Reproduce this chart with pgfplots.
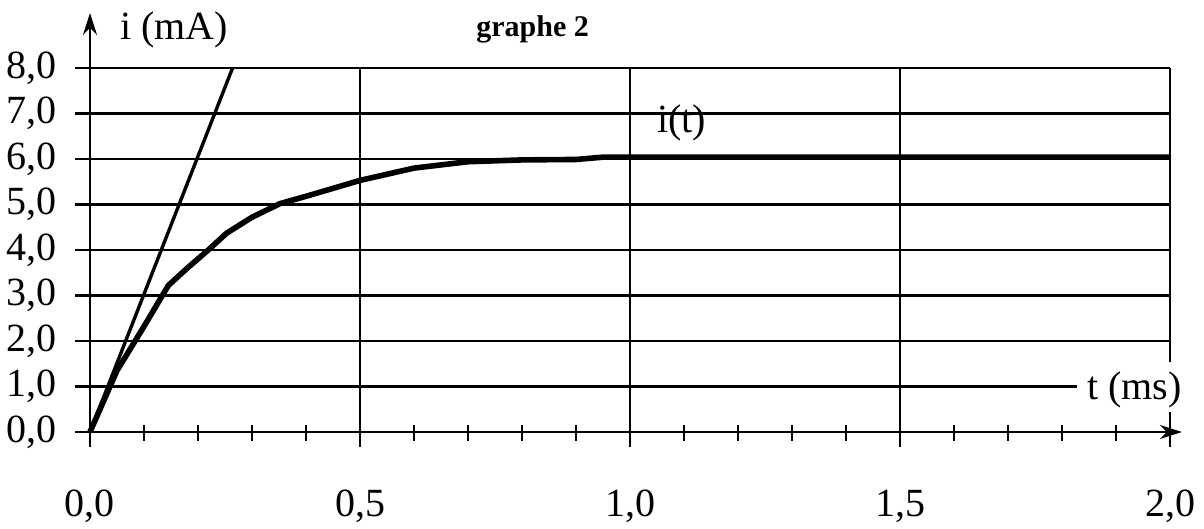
\documentclass[border=0pt]{standalone}
\usepackage{fontspec}
\setmainfont{Liberation Serif}
\usepackage{pgfplots}
\pgfplotsset{compat=1.18}
\usetikzlibrary{arrows.meta}
\begin{document}
\begin{tikzpicture}
\begin{axis}[
  at={(0,0)}, anchor=south west,
  x=270pt, y=22.75pt,
  xmin=0, xmax=2, ymin=0, ymax=8,
  axis line style={draw=none},
  clip=false,
  major tick length=0pt, minor tick length=0pt,
  xtick={0,0.5,1,1.5,2},
  xticklabels={{0,0},{0,5},{1,0},{1,5},{2,0}},
  ytick={0,1,2,3,4,5,6,7,8},
  yticklabels={{0,0},{1,0},{2,0},{3,0},{4,0},{5,0},{6,0},{7,0},{8,0}},
  xticklabel style={font=\fontsize{20}{22}\selectfont, anchor=base, yshift=-42.5pt, inner sep=0pt},
  yticklabel style={font=\fontsize{20}{22}\selectfont, anchor=east, xshift=-16.5pt, inner sep=0pt},
]
% horizontal grid
\draw[line width=1.1pt] (axis cs:-0.028,1) -- (axis cs:1.828,1);
\foreach \yy in {2,3,4,5,6,7,8}{
  \edef\tmp{\noexpand\draw[line width=1.1pt] (axis cs:-0.028,\yy) -- (axis cs:2,\yy);}\tmp
}
% vertical grid
\foreach \xx in {0.5,1,1.5}{
  \edef\tmp{\noexpand\draw[line width=1.1pt] (axis cs:\xx,-0.33) -- (axis cs:\xx,8);}\tmp
}
\draw[line width=1.1pt] (axis cs:2,1.54) -- (axis cs:2,8);
\draw[line width=1.1pt] (axis cs:2,-0.33) -- (axis cs:2,0.45);
% minor ticks
\foreach \xx in {0.1,0.2,0.3,0.4,0.6,0.7,0.8,0.9,1.1,1.2,1.3,1.4,1.6,1.7,1.8,1.9}{
  \edef\tmp{\noexpand\draw[line width=1.1pt] (axis cs:\xx,-0.2) -- (axis cs:\xx,0.155);}\tmp
}
% axes
\draw[line width=1.2pt, -{Stealth[length=11pt,width=7pt]}] (axis cs:-0.028,0) -- (axis cs:2.022,0);
\draw[line width=1.2pt, -{Stealth[length=11pt,width=7pt]}] (axis cs:0,-0.33) -- (axis cs:0,9.21);
% tangent
\addplot[line width=1.7pt, black] coordinates {(0,0) (0.264,8)};
% i(t)
\addplot[line width=2.8pt, black, line join=round] coordinates {
(0,0) (0.05,1.35) (0.1,2.32) (0.145,3.22) (0.18,3.6) (0.219,4.0) (0.253,4.37)
(0.3,4.72) (0.352,5.02) (0.4,5.18) (0.463,5.4) (0.5,5.53) (0.6,5.8) (0.7,5.94)
(0.8,5.98) (0.9,5.99) (0.95,6.04) (1.2,6.04) (1.6,6.04) (2.0,6.04)
};
\end{axis}
\node[anchor=base west, font=\fontsize{20}{22}\selectfont, inner sep=0pt] at (15pt,196pt) {i (mA)};
\node[anchor=base west, font=\bfseries\fontsize{15}{17}\selectfont, inner sep=0pt] at (193pt,197.5pt) {graphe 2};
\node[anchor=base west, font=\fontsize{20}{22}\selectfont, inner sep=0pt] at (283.5pt,149.5pt) {i(t)};
\node[anchor=base west, font=\fontsize{20}{22}\selectfont, inner sep=0pt] at (498.5pt,16pt) {t (ms)};
\pgfresetboundingbox
\path (-45pt,-48.5pt) rectangle (557pt,216pt);
\end{tikzpicture}
\end{document}
